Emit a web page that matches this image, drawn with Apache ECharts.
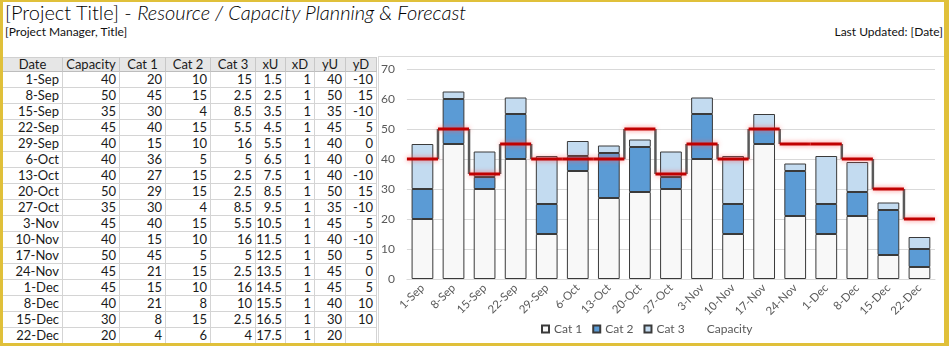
<!DOCTYPE html>
<html>
<head>
<meta charset="utf-8">
<script src="https://cdn.jsdelivr.net/npm/echarts@6/dist/echarts.min.js"></script>
<style>
  html, body { margin:0; padding:0; width:949px; height:346px; overflow:hidden; background:#ffffff; font-family: Lato, "Noto Sans", sans-serif; }
  #frame { position:absolute; left:0; top:0; width:949px; height:346px; box-sizing:border-box;
           border-left:3px solid #e0c03a; border-top:2px solid #e0c03a; border-right:5px solid #e0c03a; border-bottom:3px solid #e0c03a; pointer-events:none; z-index:10; }
  #title { position:absolute; left:5px; top:0px; font-size:20px; font-weight:300; color:#000; white-space:nowrap; }
  #title i { font-style:italic; }
  #sub { position:absolute; left:5px; top:24px; font-size:12px; color:#111; white-space:nowrap; }
  #upd { position:absolute; right:6px; top:24px; font-size:12px; color:#111; white-space:nowrap; }
  #tbl { position:absolute; left:0; top:0; }
  .c { position:absolute; box-sizing:border-box; border-right:1px solid #d4d4d4; border-bottom:1px solid #d4d4d4;
       font-size:13px; color:#1a1a1a; text-align:right; padding-right:3px; white-space:nowrap; overflow:hidden; }
  .h { background:#e6e6e6; text-align:center; padding-right:0; border-right:1px solid #c8c8c8; border-bottom:1px solid #bdbdbd; border-top:1px solid #d0d0d0; }
  #chartbox { position:absolute; left:378px; top:56px; width:566px; height:288px; box-sizing:border-box; border-left:1px solid #d9d9d9; border-top:1px solid #d9d9d9; }
  #chart { position:absolute; left:378px; top:56px; width:566px; height:288px; }
</style>
</head>
<body>
<div id="title">[Project Title] - <i>Resource / Capacity Planning &amp; Forecast</i></div>
<div id="sub">[Project Manager, Title]</div>
<div id="upd">Last Updated: [Date]</div>
<div id="tbl"></div>
<div id="chartbox"></div>
<div id="chart"></div>
<div id="frame"></div>
<script>
// ---- data ----
var dates    = ['1-Sep','8-Sep','15-Sep','22-Sep','29-Sep','6-Oct','13-Oct','20-Oct','27-Oct','3-Nov','10-Nov','17-Nov','24-Nov','1-Dec','8-Dec','15-Dec','22-Dec'];
var capacity = [40,50,35,45,40,40,40,50,35,45,40,50,45,45,40,30,20];
var cat1     = [20,45,30,40,15,36,27,29,30,40,15,45,21,15,21,8,4];
var cat2     = [10,15,4,15,10,5,15,15,4,15,10,5,15,10,8,15,6];
var cat3     = [15,2.5,8.5,5.5,16,5,2.5,2.5,8.5,5.5,16,5,2.5,16,10,2.5,4];
var xU       = [1.5,2.5,3.5,4.5,5.5,6.5,7.5,8.5,9.5,10.5,11.5,12.5,13.5,14.5,15.5,16.5,17.5];
var xD       = [1,1,1,1,1,1,1,1,1,1,1,1,1,1,1,1,1];
var yU       = [40,50,35,45,40,40,40,50,35,45,40,50,45,45,40,30,20];
var yD       = [-10,15,-10,5,0,0,-10,15,-10,5,-10,5,0,5,10,10,null];
var headers  = ['Date','Capacity','Cat 1','Cat 2','Cat 3','xU','xD','yU','yD'];
var yTicks   = [0,10,20,30,40,50,60,70];

// ---- table ----
(function(){
  var colX = [3,63,120,166,211,256,286,315,346,377];
  var cols = [dates, capacity, cat1, cat2, cat3, xU, xD, yU, yD];
  var html = '';
  var hTop = 57, hH = 15, rTop = 72, rH = 16;
  for (var j = 0; j < headers.length; j++) {
    html += '<div class="c h" style="left:'+colX[j]+'px;top:'+hTop+'px;width:'+(colX[j+1]-colX[j])+'px;height:'+hH+'px;line-height:'+(hH-2)+'px">'+headers[j]+'</div>';
  }
  for (var i = 0; i < dates.length; i++) {
    for (var j = 0; j < cols.length; j++) {
      var v = cols[j][i];
      var t = (v === null || v === undefined) ? '' : String(v);
      html += '<div class="c" style="left:'+colX[j]+'px;top:'+(rTop+i*rH)+'px;width:'+(colX[j+1]-colX[j])+'px;height:'+rH+'px;line-height:'+(rH-1)+'px">'+t+'</div>';
    }
  }
  document.getElementById('tbl').innerHTML = html;
})();

// ---- chart ----
var chart = echarts.init(document.getElementById('chart'), null, {renderer:'canvas'});
var stepData = xU.map(function(x, i){ return [x, yU[i], xD[i], (yD[i] === null ? '-' : yD[i])]; });
var txt = '#595959';
var border = '#3a3a3a';
chart.setOption({
  animation: false,
  textStyle: { fontFamily: 'Lato, "Noto Sans", sans-serif' },
  grid: { left: 26, top: 13, right: 9, bottom: 65 },
  legend: {
    left: 158, top: 262, itemWidth: 7, itemHeight: 7, itemGap: 10,
    textStyle: { color: txt, fontSize: 12 },
    data: [
      { name: 'Cat 1', icon: 'rect' },
      { name: 'Cat 2', icon: 'rect' },
      { name: 'Cat 3', icon: 'rect' },
      { name: 'Capacity', icon: 'none' }
    ]
  },
  xAxis: [
    { type: 'category', data: dates, boundaryGap: true,
      axisLine: { lineStyle: { color: '#d9d9d9' } },
      axisTick: { length: 5, lineStyle: { color: '#d9d9d9' } },
      axisLabel: { rotate: 45, color: txt, fontSize: 11.5, margin: 7, interval: 0 } },
    { type: 'value', min: 0.5, max: 17.5, show: false }
  ],
  yAxis: {
    type: 'value', min: 0, max: 70, interval: 10,
    axisLine: { show: false }, axisTick: { show: false },
    axisLabel: { color: txt, fontSize: 12, margin: 12, formatter: function(v){ return yTicks.indexOf(v) >= 0 ? String(v) : ''; } },
    splitLine: { lineStyle: { color: '#d9d9d9' } }
  },
  series: [
    { name: 'Cat 1', type: 'bar', stack: 'a', data: cat1, barCategoryGap: '30%',
      itemStyle: { color: '#f8f8f8', borderColor: border, borderWidth: 1 } },
    { name: 'Cat 2', type: 'bar', stack: 'a', data: cat2,
      itemStyle: { color: '#5b9bd5', borderColor: border, borderWidth: 1 } },
    { name: 'Cat 3', type: 'bar', stack: 'a', data: cat3,
      itemStyle: { color: '#c3dbf0', borderColor: border, borderWidth: 1 } },
    { name: 'Capacity', type: 'custom', xAxisIndex: 1, yAxisIndex: 0, z: 5,
      encode: { x: 0, y: 1 },
      data: stepData,
      renderItem: function(params, api){
        var x = api.value(0), y = api.value(1), xd = api.value(2), yd = api.value(3);
        var p1 = api.coord([x - xd, y]), p2 = api.coord([x, y]);
        var children = [];
        if (!isNaN(yd) && yd !== 0) {
          var p3 = api.coord([x, y - yd]);
          children.push({ type: 'line', shape: { x1: p2[0], y1: p2[1], x2: p3[0], y2: p3[1] },
            style: { stroke: '#595959', lineWidth: 2.5 } });
        }
        children.push({ type: 'line', shape: { x1: p1[0], y1: p1[1], x2: p2[0], y2: p2[1] },
          style: { stroke: '#c00000', lineWidth: 3, shadowBlur: 5, shadowColor: 'rgba(255,90,90,0.8)' } });
        return { type: 'group', children: children };
      }
    }
  ]
});
</script>
</body>
</html>
